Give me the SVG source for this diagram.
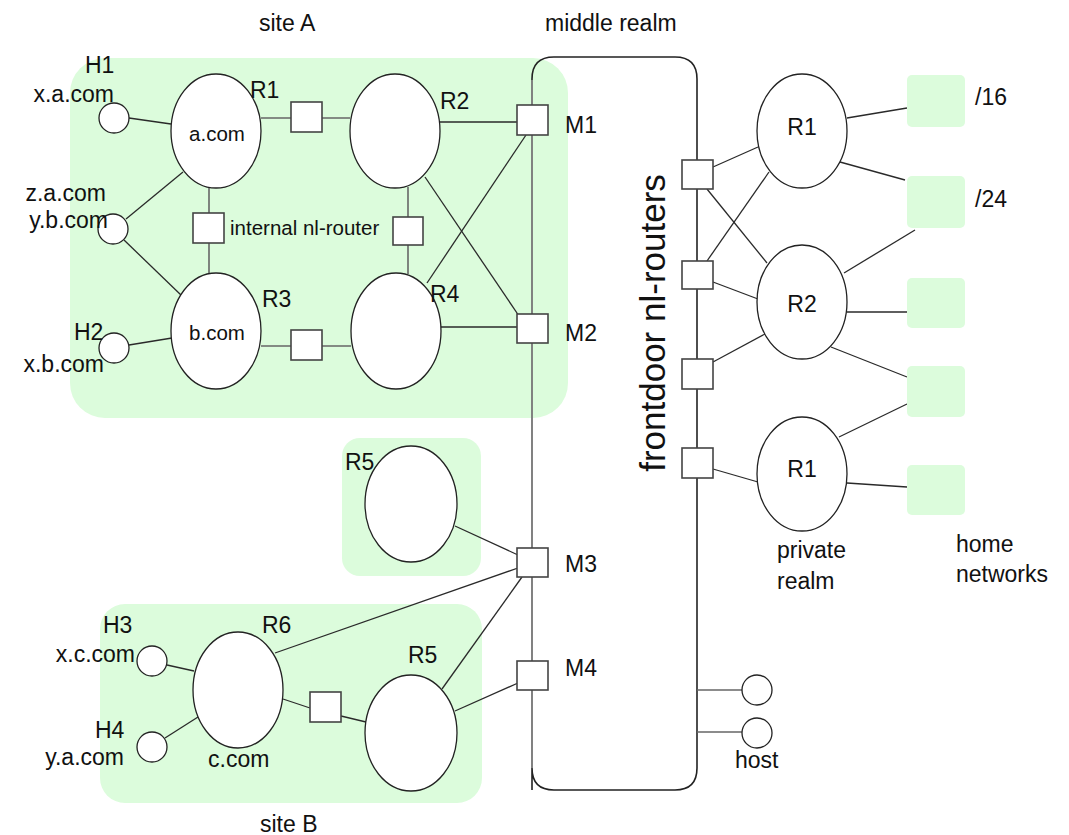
<svg xmlns="http://www.w3.org/2000/svg" width="1069" height="835" viewBox="0 0 1069 835">
  <style>
    text { font-family: "Liberation Sans", Arial, sans-serif; font-size: 23px; fill: #111; }
    .sm { font-size: 20.5px; }
    .big { font-size: 35px; }
    .zone { fill: #dcfcdc; stroke: none; }
    .rtr { fill: #fff; stroke: #222; stroke-width: 1.3; }
    .host { fill: #fff; stroke: #222; stroke-width: 1.3; }
    .nl { fill: #fff; stroke: #444; stroke-width: 1.6; }
    .net { fill: #dcfcdc; stroke: none; }
    .link { stroke: #2a2a2a; stroke-width: 1.3; fill: none; }
    .glink { stroke: #666; stroke-width: 1.6; fill: none; }
  </style>

  <!-- administrative areas -->
  <g id="siteA">
    <rect class="zone" x="70" y="58" width="498" height="360" rx="35"/>
    <text x="259" y="31">site A</text>
  </g>
  <g id="siteR5">
    <rect class="zone" x="342" y="438" width="139" height="138" rx="18"/>
  </g>
  <g id="siteB">
    <rect class="zone" x="100" y="604" width="382" height="199" rx="25"/>
    <text x="260" y="832">site B</text>
  </g>

  <!-- middle realm backbone -->
  <g id="middleRealm">
    <path d="M532,790 V79 Q532,57 554,57 H675 Q697,57 697,79 V768 Q697,790 675,790 H554 Q532,790 532,768" fill="none" stroke="#222" stroke-width="1.6"/>
    <line x1="532" y1="80" x2="532" y2="768" stroke="#888" stroke-width="1.8"/>
    <text x="545" y="31">middle realm</text>
    <text class="big" transform="translate(665,323) rotate(-90)" text-anchor="middle">frontdoor nl-routers</text>
  </g>

  <!-- connectors -->
  <g id="connectors">
    <!-- site A -->
    <line class="link" x1="129" y1="118" x2="171" y2="124"/>
    <line class="link" x1="126" y1="219" x2="183" y2="172"/>
    <line class="link" x1="124" y1="240" x2="182" y2="296"/>
    <line class="link" x1="129" y1="345" x2="172" y2="338"/>
    <line class="glink" x1="261" y1="118" x2="350" y2="118"/>
    <line class="glink" x1="209" y1="187" x2="209" y2="274"/>
    <line class="glink" x1="408" y1="187" x2="408" y2="274"/>
    <line class="glink" x1="261" y1="346" x2="351" y2="346"/>
    <line class="link" x1="440" y1="122" x2="517" y2="122"/>
    <line class="link" x1="425" y1="177" x2="519" y2="316"/>
    <line class="link" x1="427" y1="283" x2="526" y2="135"/>
    <line class="link" x1="441" y1="327" x2="517" y2="327"/>
    <!-- lone R5 and site B -->
    <line class="link" x1="455" y1="526" x2="518" y2="555"/>
    <line class="link" x1="275" y1="653" x2="518" y2="568"/>
    <line class="link" x1="442" y1="689" x2="522" y2="577"/>
    <line class="link" x1="455" y1="711" x2="518" y2="683"/>
    <line class="link" x1="167" y1="665" x2="194" y2="671"/>
    <line class="link" x1="165" y1="738" x2="198" y2="717"/>
    <line class="link" x1="283" y1="699" x2="310" y2="708"/>
    <line class="link" x1="341" y1="716" x2="366" y2="722"/>
    <!-- hosts on the backbone -->
    <line class="glink" x1="697" y1="690" x2="742" y2="690"/>
    <line class="glink" x1="697" y1="732" x2="742" y2="732"/>
    <!-- private realm -->
    <line class="link" x1="713" y1="167" x2="758" y2="147"/>
    <line class="link" x1="707" y1="189" x2="767" y2="263"/>
    <line class="link" x1="707" y1="261" x2="769" y2="172"/>
    <line class="link" x1="713" y1="282" x2="758" y2="299"/>
    <line class="link" x1="713" y1="362" x2="765" y2="334"/>
    <line class="link" x1="713" y1="469" x2="758" y2="482"/>
    <!-- home networks -->
    <line class="link" x1="847" y1="118" x2="907" y2="108"/>
    <line class="link" x1="840" y1="162" x2="905" y2="180"/>
    <line class="link" x1="844" y1="273" x2="915" y2="230"/>
    <line class="link" x1="847" y1="312" x2="907" y2="312"/>
    <line class="link" x1="831" y1="347" x2="907" y2="377"/>
    <line class="link" x1="839" y1="437" x2="907" y2="404"/>
    <line class="link" x1="847" y1="483" x2="907" y2="487"/>
  </g>

  <!-- site A nodes -->
  <g id="H1">
    <circle class="host" cx="114" cy="118" r="15"/>
    <text x="85" y="73">H1</text>
    <text x="114" y="102" text-anchor="end">x.a.com</text>
  </g>
  <g id="Hz">
    <circle class="host" cx="113" cy="229" r="15"/>
    <text x="106" y="201" text-anchor="end">z.a.com</text>
    <text x="108" y="228" text-anchor="end">y.b.com</text>
  </g>
  <g id="H2">
    <circle class="host" cx="114" cy="348" r="15"/>
    <text x="74" y="340">H2</text>
    <text x="104" y="372" text-anchor="end">x.b.com</text>
  </g>
  <g id="R1a">
    <ellipse class="rtr" cx="216" cy="131" rx="45" ry="57"/>
    <text x="250" y="98">R1</text>
    <text class="sm" x="217" y="141" text-anchor="middle">a.com</text>
  </g>
  <g id="R2a">
    <ellipse class="rtr" cx="395" cy="131" rx="45" ry="57"/>
    <text x="440" y="109">R2</text>
  </g>
  <g id="R3a">
    <ellipse class="rtr" cx="216" cy="331" rx="45" ry="58"/>
    <text x="262" y="307">R3</text>
    <text class="sm" x="217" y="340" text-anchor="middle">b.com</text>
  </g>
  <g id="R4a">
    <ellipse class="rtr" cx="396" cy="331" rx="45" ry="58"/>
    <text x="430" y="302">R4</text>
  </g>
  <g id="nlA12"><rect class="nl" x="291" y="102" width="31" height="30"/></g>
  <g id="nlA34"><rect class="nl" x="291" y="330" width="31" height="30"/></g>
  <g id="nlA13">
    <rect class="nl" x="193" y="213" width="31" height="30"/>
    <text class="sm" x="230" y="235">internal nl-router</text>
  </g>
  <g id="nlA24"><rect class="nl" x="393" y="217" width="30" height="28"/></g>

  <!-- middle realm nl-routers -->
  <g id="M1">
    <rect class="nl" x="517" y="105" width="31" height="30"/>
    <text x="565" y="133">M1</text>
  </g>
  <g id="M2">
    <rect class="nl" x="517" y="314" width="31" height="29"/>
    <text x="565" y="341">M2</text>
  </g>
  <g id="M3">
    <rect class="nl" x="517" y="548" width="31" height="29"/>
    <text x="565" y="572">M3</text>
  </g>
  <g id="M4">
    <rect class="nl" x="517" y="661" width="31" height="29"/>
    <text x="565" y="676">M4</text>
  </g>
  <g id="F1"><rect class="nl" x="682" y="160" width="31" height="29"/></g>
  <g id="F2"><rect class="nl" x="682" y="261" width="31" height="28"/></g>
  <g id="F3"><rect class="nl" x="682" y="359" width="31" height="30"/></g>
  <g id="F4"><rect class="nl" x="682" y="448" width="31" height="30"/></g>
  <g id="host">
    <circle class="host" cx="757" cy="690" r="15"/>
    <circle class="host" cx="757" cy="733" r="15"/>
    <text x="735" y="768">host</text>
  </g>

  <!-- lone R5 -->
  <g id="R5top">
    <ellipse class="rtr" cx="411" cy="504" rx="46" ry="58"/>
    <text x="345" y="470">R5</text>
  </g>

  <!-- site B nodes -->
  <g id="H3">
    <circle class="host" cx="152" cy="661" r="15"/>
    <text x="103" y="633">H3</text>
    <text x="135" y="662" text-anchor="end">x.c.com</text>
  </g>
  <g id="H4">
    <circle class="host" cx="152" cy="747" r="15"/>
    <text x="95" y="738">H4</text>
    <text x="124" y="765" text-anchor="end">y.a.com</text>
  </g>
  <g id="R6">
    <ellipse class="rtr" cx="238" cy="690" rx="45" ry="58"/>
    <text x="262" y="633">R6</text>
    <text x="208" y="767">c.com</text>
  </g>
  <g id="nlB"><rect class="nl" x="310" y="692" width="31" height="30"/></g>
  <g id="R5b">
    <ellipse class="rtr" cx="411" cy="733" rx="46" ry="58"/>
    <text x="408" y="663">R5</text>
  </g>

  <!-- private realm -->
  <g id="P1">
    <ellipse class="rtr" cx="802" cy="131" rx="45" ry="57"/>
    <text x="802" y="135" text-anchor="middle">R1</text>
  </g>
  <g id="P2">
    <ellipse class="rtr" cx="802" cy="302" rx="45" ry="57"/>
    <text x="802" y="312" text-anchor="middle">R2</text>
  </g>
  <g id="P3">
    <ellipse class="rtr" cx="802" cy="474" rx="45" ry="57"/>
    <text x="802" y="477" text-anchor="middle">R1</text>
    <text x="777" y="558">private</text>
    <text x="777" y="589">realm</text>
  </g>

  <!-- home networks -->
  <g id="N16">
    <rect class="net" x="907" y="75" width="58" height="52" rx="5"/>
    <text x="975" y="105">/16</text>
  </g>
  <g id="N24">
    <rect class="net" x="907" y="176" width="58" height="52" rx="5"/>
    <text x="975" y="207">/24</text>
  </g>
  <g id="N3"><rect class="net" x="907" y="278" width="58" height="50" rx="5"/></g>
  <g id="N4"><rect class="net" x="907" y="366" width="58" height="51" rx="5"/></g>
  <g id="N5">
    <rect class="net" x="907" y="465" width="58" height="50" rx="5"/>
    <text x="956" y="552">home</text>
    <text x="956" y="582">networks</text>
  </g>
</svg>
